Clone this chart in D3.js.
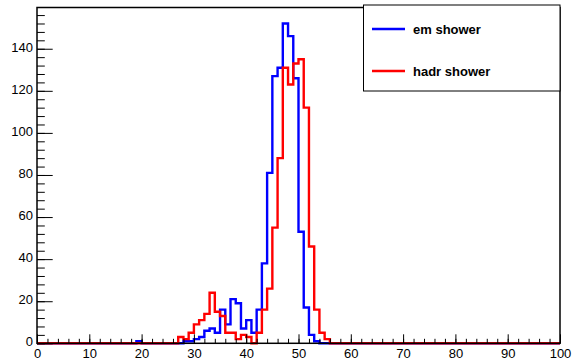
<!DOCTYPE html>
<html>
<head>
<meta charset="utf-8">
<script src="https://cdn.jsdelivr.net/npm/d3@7"></script>
<style>
  body { margin: 0; background: #fff; }
  svg { display: block; font-family: "Liberation Sans", Arial, Helvetica, sans-serif; }
</style>
</head>
<body>
<svg id="chart"></svg>
<script>
// 100 bins of width 1 from 0 to 100
const binEdges = d3.range(0, 101, 1);

const emShower = [
  0, 0, 0, 0, 0, 0, 0, 0, 0, 0, 0, 0, 0, 0, 0, 0, 0, 0, 0, 1,
  0, 0, 0, 0, 0, 0, 0, 0, 1, 1, 2, 3, 6, 7, 5, 16, 9, 21, 19, 7,
  11, 5, 16, 38, 81, 127, 131, 152, 146, 126, 53, 17, 4, 1, 0, 0, 0, 0, 0, 0,
  0, 0, 0, 0, 0, 0, 0, 0, 0, 0, 0, 0, 0, 0, 0, 0, 0, 0, 0, 0,
  0, 0, 0, 0, 0, 0, 0, 0, 0, 0, 0, 0, 0, 0, 0, 0, 0, 0, 0, 0
];

const hadrShower = [
  0, 0, 0, 0, 0, 0, 0, 0, 0, 0, 0, 0, 0, 0, 0, 0, 0, 0, 0, 0,
  0, 0, 0, 0, 0, 0, 0, 3, 2, 5, 9, 11, 14, 24, 15, 13, 5, 5, 2, 4,
  3, 0, 5, 16, 26, 55, 88, 131, 123, 133, 135, 112, 46, 16, 5, 2, 0, 0, 0, 0,
  0, 0, 0, 0, 0, 0, 0, 0, 0, 0, 0, 0, 0, 0, 0, 0, 0, 0, 0, 0,
  0, 0, 0, 0, 0, 0, 0, 0, 0, 0, 0, 0, 0, 0, 0, 0, 0, 0, 0, 0
];

const seriesNames = ["em shower", "hadr shower"];
const seriesColors = ["#0000ff", "#ff0000"];

const xTicks = d3.range(0, 101, 10);
const yTicks = d3.range(0, 141, 20);

const width = 574, height = 360;
const margin = { top: 7.5, right: 14, bottom: 16.7, left: 37 };

const svg = d3.select("#chart").attr("width", width).attr("height", height);

const x = d3.scaleLinear()
  .domain([0, 100])
  .range([margin.left, width - margin.right]);

// frame top sits a bit above the tallest bin
const yMax = 1.05 * d3.max(emShower.concat(hadrShower));
const y = d3.scaleLinear()
  .domain([0, yMax])
  .range([height - margin.bottom, margin.top]);

// step outline of a histogram
const stepLine = d3.line()
  .x(d => x(d[0]))
  .y(d => y(d[1]))
  .curve(d3.curveStepAfter);

function outline(values) {
  const pts = values.map((v, i) => [binEdges[i], v]);
  pts.push([binEdges[values.length], values[values.length - 1]]);
  return pts;
}

[emShower, hadrShower].forEach((vals, i) => {
  svg.append("path")
    .datum(outline(vals))
    .attr("fill", "none")
    .attr("stroke", seriesColors[i])
    .attr("stroke-width", 2.4)
    .attr("d", stepLine);
});

// x axis: minor ticks every 2, major every 10, drawn inward
const xMinor = svg.append("g")
  .attr("transform", `translate(0,${height - margin.bottom})`)
  .call(d3.axisBottom(x).tickValues(d3.range(0, 101, 2)).tickSize(-4.5).tickFormat(""));
xMinor.select(".domain").remove();

const xMajor = svg.append("g")
  .attr("transform", `translate(0,${height - margin.bottom})`)
  .call(d3.axisBottom(x).tickValues(xTicks).tickSize(-9).tickPadding(5));
xMajor.select(".domain").remove();
xMajor.selectAll("text").attr("font-size", 13).attr("fill", "#000");

// y axis: minor every 4, major every 20
const yMinor = svg.append("g")
  .attr("transform", `translate(${margin.left},0)`)
  .call(d3.axisLeft(y).tickValues(d3.range(0, yMax, 4)).tickSize(-7.8).tickFormat(""));
yMinor.select(".domain").remove();

const yMajor = svg.append("g")
  .attr("transform", `translate(${margin.left},0)`)
  .call(d3.axisLeft(y).tickValues(yTicks).tickSize(-15.7).tickPadding(4));
yMajor.select(".domain").remove();
yMajor.selectAll("text").attr("font-size", 13).attr("fill", "#000").attr("dy", "0.2em");

svg.selectAll(".tick line").attr("stroke", "#000");

// frame
svg.append("rect")
  .attr("x", margin.left)
  .attr("y", margin.top)
  .attr("width", width - margin.left - margin.right)
  .attr("height", height - margin.top - margin.bottom)
  .attr("fill", "none")
  .attr("stroke", "#000")
  .attr("stroke-width", 1.5);

// legend
const legend = svg.append("g");
legend.append("rect")
  .attr("x", 363.5)
  .attr("y", 5)
  .attr("width", x(100) - 363.5)
  .attr("height", 86)
  .attr("fill", "#fff")
  .attr("stroke", "#000")
  .attr("stroke-width", 1);

seriesNames.forEach((name, i) => {
  const ly = 29 + i * 42;
  legend.append("line")
    .attr("x1", 372).attr("x2", 405)
    .attr("y1", ly).attr("y2", ly)
    .attr("stroke", seriesColors[i])
    .attr("stroke-width", 2.4);
  legend.append("text")
    .attr("x", 413)
    .attr("y", ly + 5)
    .attr("font-size", 13)
    .attr("font-weight", "bold")
    .attr("fill", "#000")
    .text(name);
});
</script>
</body>
</html>
